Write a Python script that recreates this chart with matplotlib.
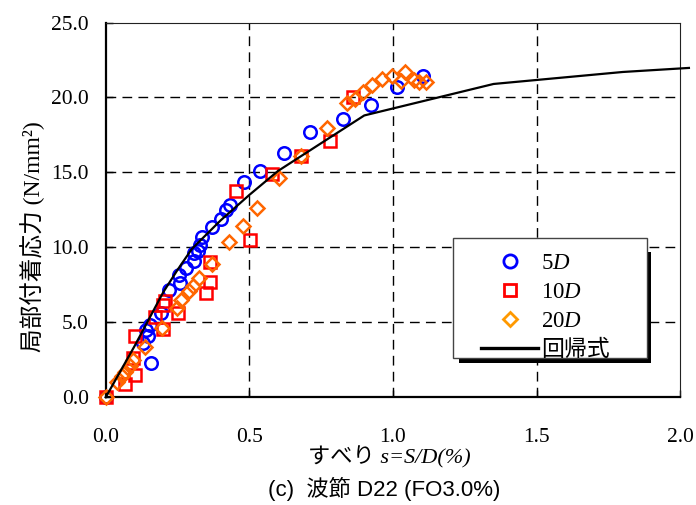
import matplotlib
matplotlib.use('Agg')
import matplotlib.pyplot as plt
from matplotlib.lines import Line2D
from matplotlib.patches import Rectangle

# ——— データ ———
s_5d = [0.0, 0.156, 0.130, 0.147, 0.142, 0.153, 0.194, 0.219, 0.257, 0.254, 0.280,
        0.309, 0.309, 0.320, 0.328, 0.335, 0.370, 0.401, 0.418, 0.432, 0.482,
        0.537, 0.620, 0.710, 0.827, 0.923, 1.014, 1.104]
tau_5d = [0.0, 2.28, 3.62, 4.06, 4.51, 4.84, 5.62, 7.18, 7.62, 8.18, 8.62,
          9.07, 9.63, 9.73, 10.18, 10.69, 11.33, 11.90, 12.52, 12.85, 14.34,
          15.07, 16.30, 17.68, 18.57, 19.53, 20.71, 21.42]

s_10d = [0.0, 0.067, 0.101, 0.095, 0.101, 0.199, 0.170, 0.251, 0.199, 0.205,
         0.349, 0.363, 0.363, 0.502, 0.453, 0.580, 0.681, 0.779, 0.862]
tau_10d = [0.0, 0.90, 1.50, 2.62, 4.06, 4.57, 5.35, 5.62, 6.17, 6.44,
           6.96, 7.66, 9.03, 10.47, 13.79, 14.90, 16.08, 17.12, 20.01]

s_20d = [0.0, 0.038, 0.055, 0.067, 0.084, 0.095, 0.136, 0.196, 0.248, 0.263,
         0.291, 0.305, 0.326, 0.369, 0.430, 0.478, 0.528, 0.603, 0.681, 0.770,
         0.839, 0.868, 0.897, 0.928, 0.960, 0.998, 1.041, 1.029, 1.073, 1.089, 1.116]
tau_20d = [0.0, 1.05, 1.39, 1.72, 2.06, 2.50, 3.35, 4.59, 5.95, 6.51,
           7.11, 7.40, 7.96, 8.89, 10.33, 11.43, 12.63, 14.63, 16.08, 17.97,
           19.64, 19.93, 20.35, 20.86, 21.20, 21.46, 21.68, 21.08, 21.15, 21.04, 21.04]

# 回帰式
s_reg = [0.0, 0.05, 0.1, 0.15, 0.2, 0.25, 0.3, 0.4, 0.5, 0.6, 0.9, 1.35, 1.8, 2.03]
tau_reg = [0.0, 1.7, 3.4, 5.2, 7.0, 8.5, 9.9, 11.8, 13.5, 15.1, 18.8, 20.9, 21.7, 21.97]

x_ticks = [0.0, 0.5, 1.0, 1.5, 2.0]
y_ticks = [0.0, 5.0, 10.0, 15.0, 20.0, 25.0]

SERIF = ['Liberation Serif', 'Noto Sans CJK JP']
SANS = ['Liberation Sans', 'Noto Sans CJK JP']

plt.rcParams['mathtext.fontset'] = 'custom'
plt.rcParams['mathtext.rm'] = 'Liberation Serif'
plt.rcParams['mathtext.it'] = 'Liberation Serif:italic'
plt.rcParams['font.family'] = SERIF

W, H = 696, 505
fig = plt.figure(figsize=(W / 100, H / 100), dpi=100)
ax = fig.add_axes([105.7 / W, 1 - 397.3 / H, 574.6 / W, 374.8 / H])

ax.set_xlim(0, 2.0)
ax.set_ylim(0, 25)
ax.set_xticks(x_ticks)
ax.set_yticks(y_ticks)
ax.set_xticklabels([f"{v:.1f}" for v in x_ticks], fontsize=15.5)
ax.set_yticklabels([f"{v:.1f}" for v in y_ticks], fontsize=15.5)
ax.tick_params(direction='in', length=5, width=1)
ax.tick_params(axis='x', pad=22)
ax.tick_params(axis='y', pad=12)

for sp in ['top', 'right']:
    ax.spines[sp].set_linewidth(0.8)
    ax.spines[sp].set_color('#222222')
for sp in ['left', 'bottom']:
    ax.spines[sp].set_linewidth(1.6)

# グリッド（破線）
dash = (0, (7, 4.5))
for v in x_ticks[1:-1]:
    ax.axvline(v, color='black', lw=1, linestyle=dash, zorder=1)
for v in y_ticks[1:-1]:
    ax.axhline(v, color='black', lw=1, linestyle=dash, zorder=1)

mk = dict(linestyle='none', markerfacecolor='none', markeredgewidth=1.8,
          clip_on=False, zorder=4)
ax.plot(s_5d, tau_5d, marker='o', markersize=9, markeredgecolor='#0000FF', **mk)
ax.plot(s_10d, tau_10d, marker='s', markersize=8.8, markeredgecolor='#FF0000', **mk)
ax.plot(s_20d, tau_20d, marker='D', markersize=7.3, markeredgecolor='#FF6600', **mk)
ax.plot(s_reg, tau_reg, color='black', lw=1.6, zorder=5, clip_on=False)

# 凡例の枠と影
px = lambda x, y: (x / W, 1 - y / H)
fig.add_artist(Rectangle(px(459, 363), 191.5 / W, 111 / H, transform=fig.transFigure,
                         facecolor='black', edgecolor='none', zorder=8))
fig.add_artist(Rectangle(px(453, 358), 193.7 / W, 120 / H, transform=fig.transFigure,
                         facecolor='white', edgecolor='#444444', lw=1, zorder=9))

handles = [
    Line2D([], [], linestyle='none', marker='o', markersize=9.5, markerfacecolor='none',
           markeredgecolor='#0000FF', markeredgewidth=2),
    Line2D([], [], linestyle='none', marker='s', markersize=9, markerfacecolor='none',
           markeredgecolor='#FF0000', markeredgewidth=2),
    Line2D([], [], linestyle='none', marker='D', markersize=7.5, markerfacecolor='none',
           markeredgecolor='#FF9900', markeredgewidth=2),
    Line2D([], [], color='black', lw=2.4),
]
labels = ['5$D$', '10$D$', '20$D$', '回帰式']
leg = fig.legend(handles, labels, loc='upper left', bbox_to_anchor=px(481, 253),
                 bbox_transform=fig.transFigure, frameon=False,
                 prop={'family': SERIF, 'size': 16.5}, handlelength=2.5,
                 handletextpad=0.12, labelspacing=0.34, borderpad=0, borderaxespad=0)
leg.set_zorder(10)

ax.set_ylabel('局部付着応力 (N/mm²)', fontsize=17, family=SERIF)
ax.yaxis.set_label_coords(-0.105, 0.43)

fig.text(389 / W, 1 - 457 / H, 'すべり s=S/D(%)', fontsize=16, family=SERIF,
         style='italic', ha='center', va='center')
fig.text(384 / W, 1 - 489 / H, '(c)  波節 D22 (FO3.0%)', fontsize=16, family=SANS,
         ha='center', va='center')

fig.savefig('out.png', dpi=100)
